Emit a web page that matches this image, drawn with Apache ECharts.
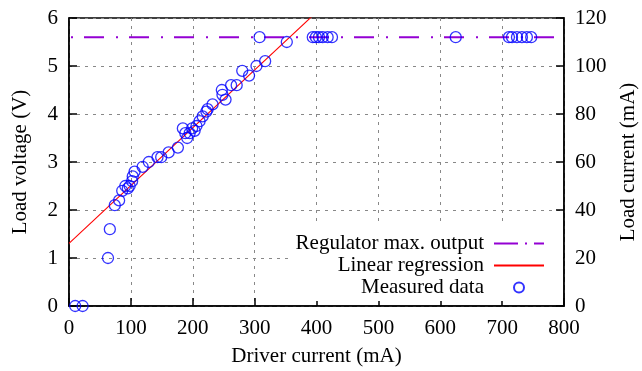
<!DOCTYPE html>
<html>
<head>
<meta charset="utf-8">
<script src="https://cdn.jsdelivr.net/npm/echarts@6/dist/echarts.min.js"></script>
<style>
  html, body { margin: 0; padding: 0; background: #fff; }
  #chart { width: 642px; height: 371px; }
</style>
</head>
<body>
<div id="chart"></div>
<script>
// Measured driver current (mA) and load voltage (V)
const driverCurrent = [10, 22, 63, 66, 74, 81, 86, 91, 95, 98,
  102, 103, 106, 119, 129, 143, 149, 161, 176, 184,
  188, 191, 195, 199, 203, 206, 211, 216, 222, 224,
  232, 247, 248, 253, 262, 271, 280, 291, 303, 308,
  317, 352, 394, 399, 404, 410, 418, 425, 625, 711,
  716, 724, 732, 740, 747];
const loadVoltage = [0, 0, 1.0, 1.6, 2.1, 2.2, 2.4, 2.5, 2.45, 2.5,
  2.6, 2.7, 2.8, 2.9, 3.0, 3.1, 3.1, 3.2, 3.3, 3.7,
  3.6, 3.5, 3.6, 3.7, 3.65, 3.75, 3.85, 3.95, 4.05, 4.1,
  4.2, 4.5, 4.4, 4.3, 4.6, 4.6, 4.9, 4.8, 5.0, 5.6,
  5.1, 5.5, 5.6, 5.6, 5.6, 5.6, 5.6, 5.6, 5.6, 5.6,
  5.6, 5.6, 5.6, 5.6, 5.6];

// Linear fit of the linear region: V = intercept + slope * I
const regIntercept = 1.306;
const regSlope = 0.01204;
const regRange = [0, 800];

// Regulator ceiling (V)
const regulatorMax = 5.6;

// Axis ranges
const xRange = [0, 800, 100];
const yLeftRange = [0, 6, 1];
const yRightRange = [0, 120, 20];

const FONT = 'Liberation Serif';

const measured = driverCurrent.map((x, i) => [x, loadVoltage[i]]);
const regression = regRange.map(x => [x, regIntercept + regSlope * x]);
const regulator = regRange.map(x => [x, regulatorMax]);

const axisText = { color: '#000', fontFamily: FONT, fontSize: 21 };
const gridLine = { show: true, lineStyle: { color: '#888', type: [3, 5], width: 1 } };
const noMarker = { color: 'rgba(0,0,0,0)', borderWidth: 0, opacity: 0 };

const chart = echarts.init(document.getElementById('chart'), null, { renderer: 'canvas' });
chart.setOption({
  backgroundColor: '#fff',
  animation: false,
  grid: {
    left: 69, right: 78, top: 18, bottom: 65,
    outerBoundsMode: 'none',
    containLabel: false,
    show: true, borderColor: '#000', borderWidth: 1.5, backgroundColor: 'transparent'
  },
  legend: {
    orient: 'vertical',
    right: 79,
    bottom: 70,
    align: 'right',
    itemWidth: 50,
    itemHeight: 10,
    itemGap: 1,
    padding: [7, 18, 3, 6],
    backgroundColor: '#fff',
    textStyle: { color: '#000', fontFamily: FONT, fontSize: 21, lineHeight: 20.5, padding: [0, 5, 0, 0] },
    data: [
      { name: 'Regulator max. output', itemStyle: noMarker,
        lineStyle: { type: [17, 7, 2, 7, 17, 0], cap: 'butt' } },
      { name: 'Linear regression', itemStyle: noMarker },
      { name: 'Measured data' }
    ]
  },
  xAxis: {
    type: 'value',
    min: xRange[0], max: xRange[1], interval: xRange[2],
    name: 'Driver current (mA)',
    nameLocation: 'middle',
    nameGap: 40,
    nameTextStyle: axisText,
    axisLine: { show: true, lineStyle: { color: '#000', width: 1.5 } },
    axisTick: { show: true, inside: true, length: 8, lineStyle: { color: '#000', width: 1.5 } },
    axisLabel: { ...axisText, margin: 12 },
    splitLine: gridLine
  },
  yAxis: [
    {
      type: 'value',
      position: 'left',
      min: yLeftRange[0], max: yLeftRange[1], interval: yLeftRange[2],
      name: 'Load voltage (V)',
      nameLocation: 'middle',
      nameRotate: 90,
      nameGap: 38,
      nameTextStyle: axisText,
      axisLine: { show: true, lineStyle: { color: '#000', width: 1.5 } },
      axisTick: { show: true, inside: true, length: 8, lineStyle: { color: '#000', width: 1.5 } },
      axisLabel: { ...axisText, margin: 11 },
      splitLine: gridLine
    },
    {
      type: 'value',
      position: 'right',
      min: yRightRange[0], max: yRightRange[1], interval: yRightRange[2],
      name: 'Load current (mA)',
      nameLocation: 'middle',
      nameRotate: 90,
      nameGap: 54,
      nameTextStyle: axisText,
      axisLine: { show: true, lineStyle: { color: '#000', width: 1.5 } },
      axisTick: { show: true, inside: true, length: 8, lineStyle: { color: '#000', width: 1.5 } },
      axisLabel: { ...axisText, margin: 11 },
      splitLine: { show: false }
    }
  ],
  series: [
    {
      name: 'Regulator max. output',
      type: 'line',
      yAxisIndex: 0,
      data: regulator,
      symbol: 'none',
      lineStyle: { color: '#9400d3', width: 2, type: [2, 11, 20, 12], dashOffset: 43, cap: 'butt' },
      itemStyle: { color: '#9400d3' },
      z: 3
    },
    {
      name: 'Linear regression',
      type: 'line',
      yAxisIndex: 0,
      data: regression,
      symbol: 'none',
      clip: true,
      lineStyle: { color: '#ff0000', width: 1.1 },
      itemStyle: { color: '#ff0000' },
      z: 3
    },
    {
      name: 'Measured data',
      type: 'scatter',
      yAxisIndex: 0,
      data: measured,
      symbol: 'circle',
      symbolSize: 11,
      clip: false,
      itemStyle: { color: 'rgba(0,0,0,0)', borderColor: '#0000ff', borderWidth: 1.3 },
      z: 4
    }
  ]
});
</script>
</body>
</html>
